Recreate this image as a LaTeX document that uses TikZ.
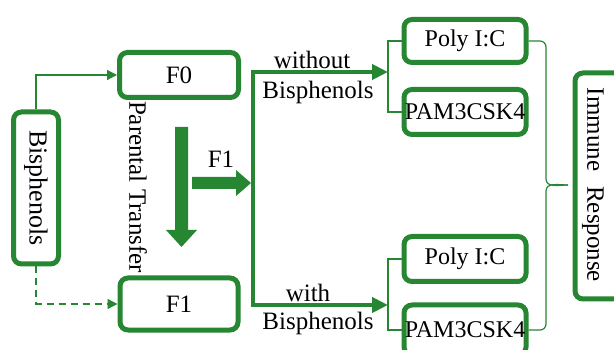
\documentclass[tikz,border=0pt]{standalone}
\usepackage{fontspec}
\setmainfont{Liberation Serif}
\usetikzlibrary{arrows.meta}
\definecolor{G}{RGB}{38,134,50}
\tikzset{
  box/.style={draw=G, line width=5pt, rounded corners=8pt, fill=white, inner sep=0pt, font=\fontsize{24}{26}\selectfont},
  thinline/.style={draw=G, line width=1.2pt},
  thickline/.style={draw=G, line width=4pt},
  lbl/.style={inner sep=0pt, font=\fontsize{25}{27}\selectfont},
  tri/.style={-{Triangle[length=10pt,width=10pt]}},
  bigtri/.style={-{Triangle[length=16pt,width=15pt]}}
}
\begin{document}
\begin{tikzpicture}[x=1pt,y=-1pt]
\useasboundingbox (0,0) rectangle (614,350);
\clip (0,0) rectangle (614,350);
% left part
\node[box, rotate=-90, minimum width=152, minimum height=45, font=\fontsize{26}{28}\selectfont] (bis) at (36,188) {Bisphenols};
\node[box, minimum width=119, minimum height=45, font=\fontsize{25}{27}\selectfont] (f0) at (179,75) {F0};
\node[box, minimum width=118, minimum height=52, font=\fontsize{25}{27}\selectfont] (f1b) at (179,304) {F1};
\draw[thinline, tri] (bis.west) |- (f0.west);
\draw[thinline, tri, dashed, dash pattern=on 7pt off 5pt] (bis.east) |- (f1b.west);
\node[lbl, rotate=-90] (pt) at (138,187) {Parental Transfer};
% big arrows
\fill[G] (175,127) -- (188,127) -- (188,230) -- (197,230) -- (181.5,247) -- (166,230) -- (175,230) -- cycle;
\fill[G] (192,177) -- (236,177) -- (236,170) -- (251,183) -- (236,196) -- (236,189) -- (192,189) -- cycle;
\node[lbl] (f1l) at (221,159) {F1};
% junction
\coordinate (jt) at (253,72);
\coordinate (jb) at (253,305);
\coordinate (bt) at (388,72);
\coordinate (bb) at (388,305);
\draw[thickline, line join=miter, bigtri] (jb) -- (jt) -- (bt);
\draw[thickline, bigtri] ([xshift=-2pt]jb) -- (bb);
\node[lbl] (wo) at (312,60) {without};
\node[lbl] (wob) at (318,92) {Bisphenols};
\node[lbl] (wi) at (308,293) {with};
\node[lbl] (wib) at (318,323) {Bisphenols};
% stimulus boxes
\node[box, minimum width=122, minimum height=43] (p1) at (465,41) {Poly I:C};
\node[box, minimum width=122, minimum height=45] (p2) at (465,112) {PAM3CSK4};
\node[box, minimum width=122, minimum height=45] (p3) at (465,259) {Poly I:C};
\node[box, minimum width=122, minimum height=50] (p4) at (465,330) {PAM3CSK4};
\draw[thinline] (p1.west) -| (bt) |- (p2.west);
\draw[thinline] (p3.west) -| (bb) |- (p4.west);
% brace
\coordinate (tip) at (568,185);
\draw[thinline] (p1.east) -- (540,41) to[out=0,in=90] (546,47) -- (546,179) to[out=-90,in=180] (tip);
\draw[thinline] (p4.east) -- (540,330) to[out=0,in=-90] (546,324) -- (546,191) to[out=90,in=180] (tip);
% immune response
\node[box, minimum width=70, minimum height=226] (ir) at (610,186) {};
\node[lbl, rotate=-90] (irt) at (593,185) {Immune\hspace{0.6em}Response};
\end{tikzpicture}
\end{document}
